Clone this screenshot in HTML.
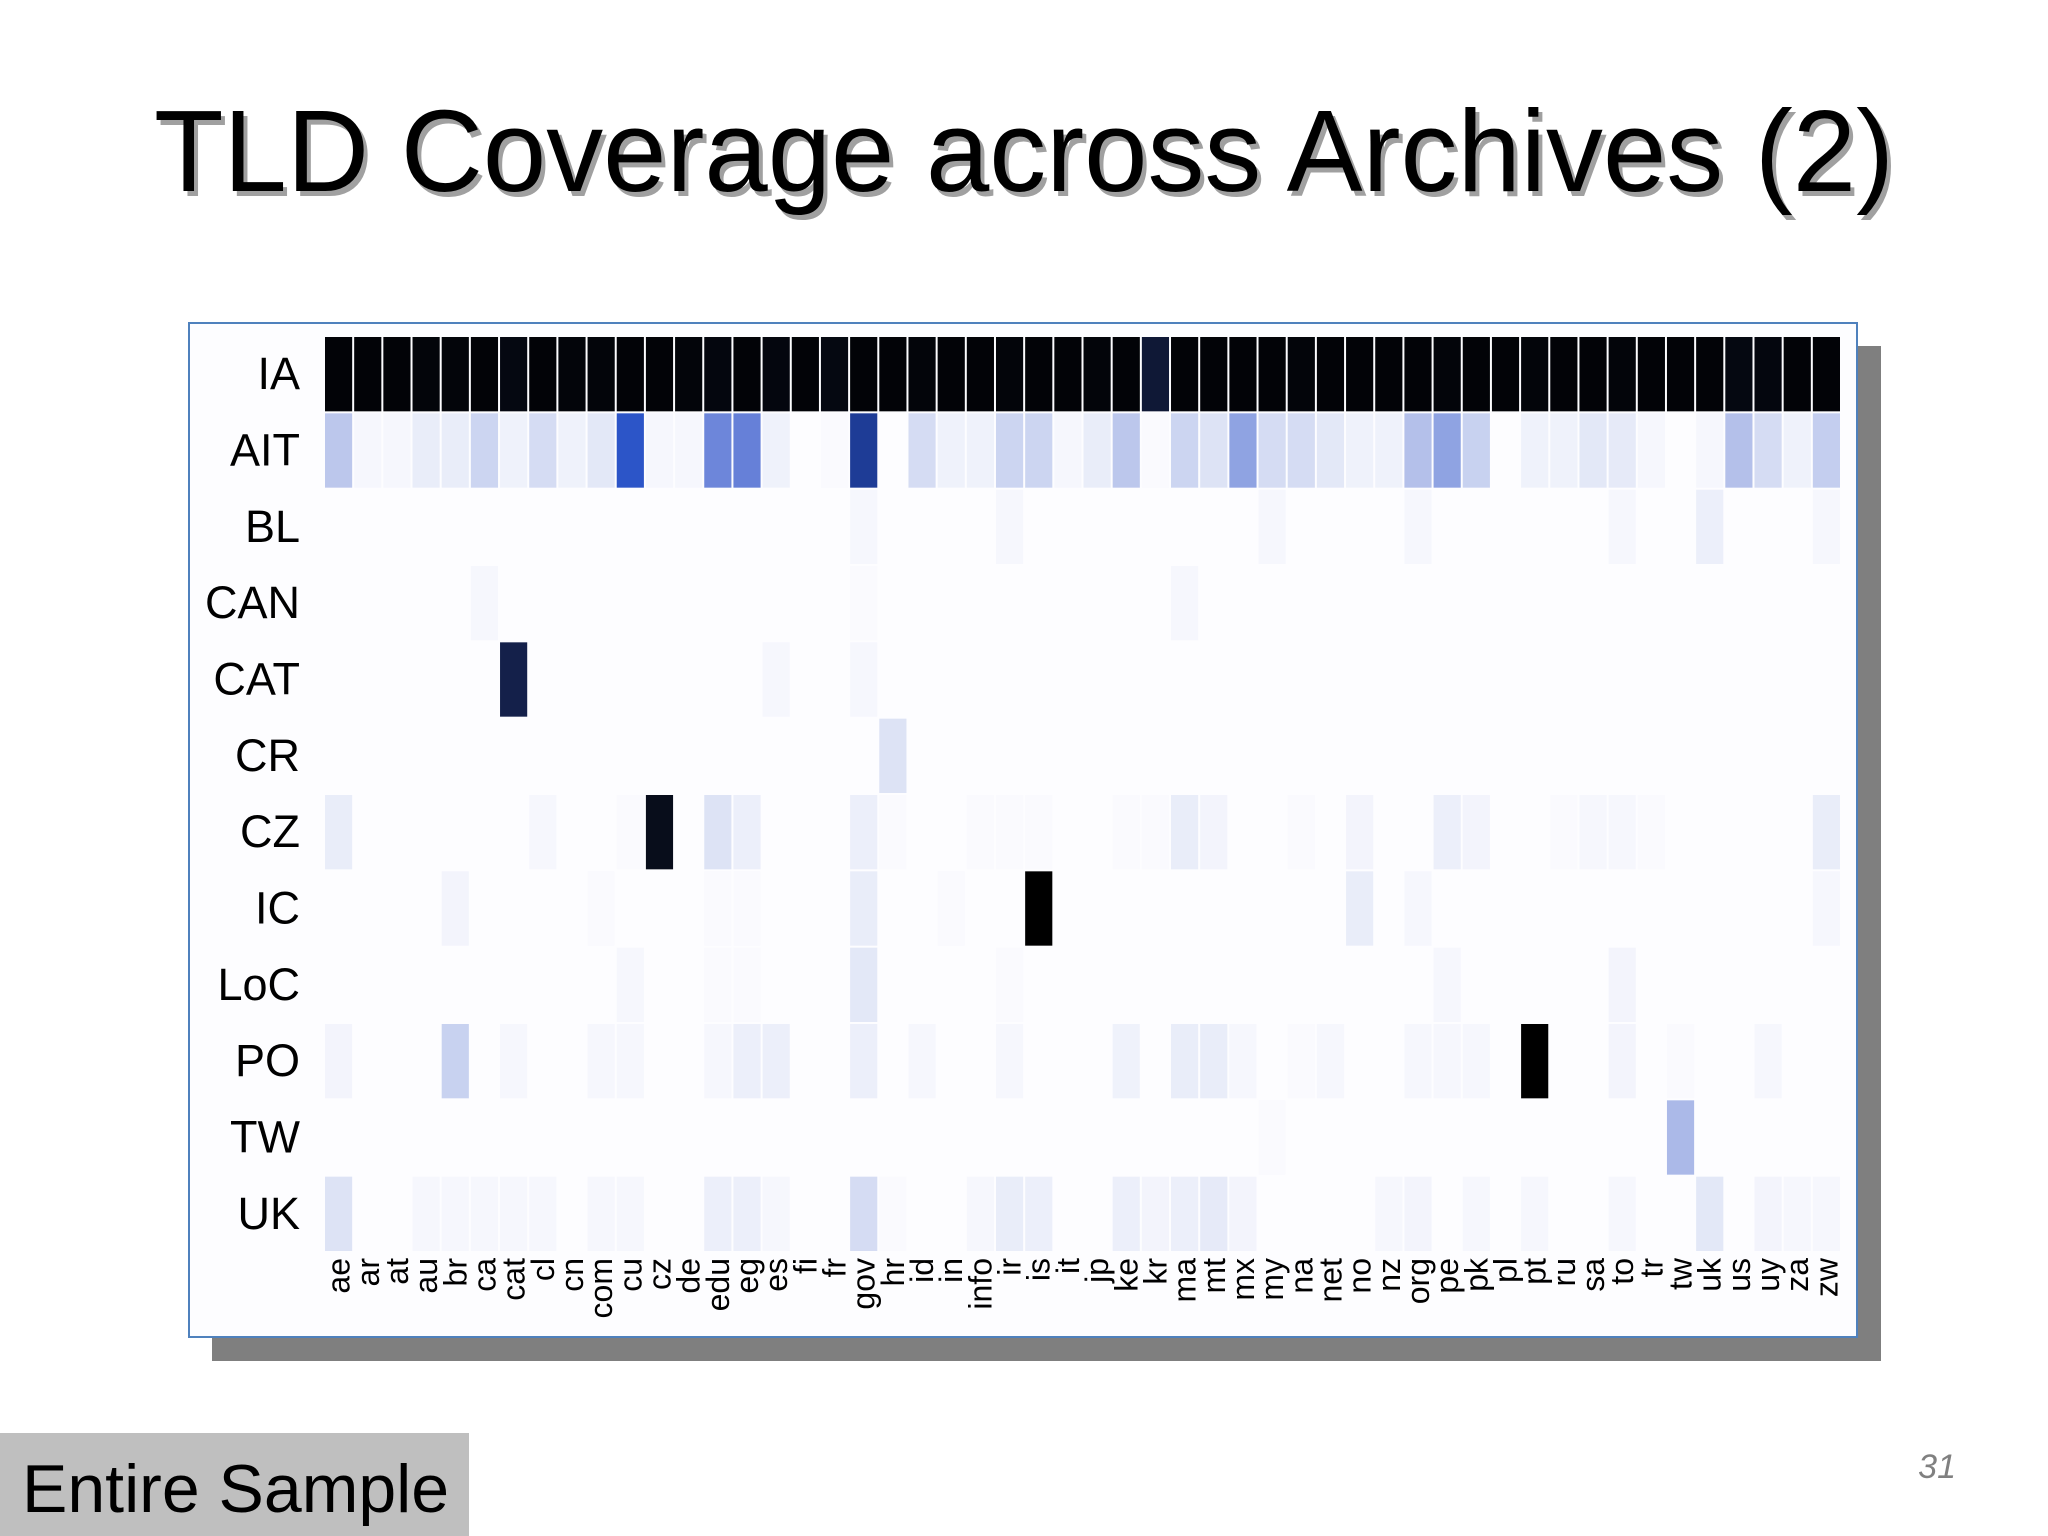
<!DOCTYPE html>
<html><head><meta charset="utf-8"><style>
html,body{margin:0;padding:0;background:#fff;}
svg{display:block;font-family:"Liberation Sans",Arial,sans-serif;}
</style></head><body>
<svg id="s" width="2048" height="1536" viewBox="0 0 2048 1536">
<text x="1028" y="196" font-size="116" fill="#a0a0a0" text-anchor="middle" textLength="1740" lengthAdjust="spacingAndGlyphs">TLD Coverage across Archives (2)</text>
<text x="1024" y="191" font-size="116" fill="#000" text-anchor="middle" textLength="1740" lengthAdjust="spacingAndGlyphs">TLD Coverage across Archives (2)</text>
<rect x="212" y="346" width="1669" height="1015" fill="#7f7f7f"/>
<rect x="189" y="323" width="1668" height="1014" fill="#fdfdff" stroke="#4f81bd" stroke-width="2"/>
<g id="cells"></g>
<g id="rlabels"></g>
<g id="clabels"></g>
<rect x="0" y="1433" width="469" height="103" fill="#bfbfbf"/>
<text x="22" y="1512" font-size="68" fill="#000">Entire Sample</text>
<text x="1956" y="1478" font-size="34" fill="#808080" font-style="italic" text-anchor="end">31</text>
</svg>
<script>
const tlds=["ae","ar","at","au","br","ca","cat","cl","cn","com","cu","cz","de","edu","eg","es","fi","fr","gov","hr","id","in","info","ir","is","it","jp","ke","kr","ma","mt","mx","my","na","net","no","nz","org","pe","pk","pl","pt","ru","sa","to","tr","tw","uk","us","uy","za","zw"];
const archives=["IA","AIT","BL","CAN","CAT","CR","CZ","IC","LoC","PO","TW","UK"];
const rowIA=[98,98,98,97,97,98,95,98,97,97,98,98,97,96,98,96,98,95,98,98,97,98,98,97,98,98,97,98,85,98,98,98,98,97,98,98,98,98,97,98,98,97,98,98,97,98,98,98,95,96,98,98];
const rowAIT=[18,2,2,6,6,14,4,12,4,8,50,2,2,38,40,4,0,1,65,0,12,4,4,14,14,2,6,18,1,14,10,28,12,12,8,4,4,20,28,15,0,4,4,8,7,2,0,2,20,12,4,16];
const rowBL=[0,0,0,0,0,0,0,0,0,0,0,0,0,0,0,0,0,0,2,0,0,0,0,2,0,0,0,0,0,0,0,0,2,0,0,0,0,2,0,0,0,0,0,0,2,0,0,5,0,0,0,2];
const rowCAN=[0,0,0,0,0,2,0,0,0,0,0,0,0,0,0,0,0,0,1,0,0,0,0,0,0,0,0,0,0,2,0,0,0,0,0,0,0,0,0,0,0,0,0,0,0,0,0,0,0,0,0,0];
const rowCAT=[0,0,0,0,0,0,80,0,0,0,0,0,0,0,0,2,0,0,2,0,0,0,0,0,0,0,0,0,0,0,0,0,0,0,0,0,0,0,0,0,0,0,0,0,0,0,0,0,0,0,0,0];
const rowCR=[0,0,0,0,0,0,0,0,0,0,0,0,0,0,0,0,0,0,0,10,0,0,0,0,0,0,0,0,0,0,0,0,0,0,0,0,0,0,0,0,0,0,0,0,0,0,0,0,0,0,0,0];
const rowCZ=[6,0,0,0,0,0,0,2,0,0,1,92,0,10,5,0,0,0,5,1,0,0,1,1,1,0,0,1,1,6,3,0,0,1,0,3,0,0,5,3,0,0,1,2,2,1,0,0,0,0,0,6];
const rowIC=[0,0,0,0,3,0,0,0,0,1,0,0,0,1,1,0,0,0,6,0,0,1,0,0,100,0,0,0,0,0,0,0,0,0,0,6,0,2,0,0,0,0,0,0,0,0,0,0,0,0,0,2];
const rowLoC=[0,0,0,0,0,0,0,0,0,0,2,0,0,1,1,0,0,0,8,0,0,0,0,1,0,0,0,0,0,0,0,0,0,0,0,0,0,0,2,0,0,0,0,0,3,0,0,0,0,0,0,0];
const rowPO=[3,0,0,0,15,0,2,0,0,2,2,0,0,2,5,5,0,0,5,0,2,0,0,2,0,0,0,4,0,6,6,2,0,1,2,0,0,2,2,2,0,100,0,0,3,0,1,0,0,2,0,0];
const rowTW=[0,0,0,0,0,0,0,0,0,0,0,0,0,0,0,0,0,0,0,0,0,0,0,0,0,0,0,0,0,0,0,0,1,0,0,0,0,0,0,0,0,0,0,0,0,0,22,0,0,0,0,0];
const rowUK=[10,0,0,2,2,2,2,2,0,2,2,0,0,5,5,2,0,0,12,1,0,0,2,6,5,0,0,5,3,5,7,3,0,0,0,0,2,3,0,2,0,2,0,0,2,0,0,8,0,3,2,2];
const values=[rowIA,rowAIT,rowBL,rowCAN,rowCAT,rowCR,rowCZ,rowIC,rowLoC,rowPO,rowTW,rowUK];
const stops=[[0,[253,253,255]],[2,[246,247,253]],[5,[236,239,250]],[10,[221,227,245]],[15,[200,210,240]],[20,[180,192,234]],[28,[143,163,226]],[40,[102,128,216]],[50,[44,85,200]],[65,[30,60,150]],[80,[20,32,74]],[90,[10,16,34]],[100,[0,0,0]]];
function color(v){for(let i=1;i<stops.length;i++){if(v<=stops[i][0]){const a=stops[i-1],b=stops[i];const t=(v-a[0])/(b[0]-a[0]);return 'rgb('+a[1].map((c,k)=>Math.round(c+(b[1][k]-c)*t)).join(',')+')';}}return '#000';}
const x0=324,x1=1841,y0=336,y1=1252;
const cw=(x1-x0)/tlds.length, rh=(y1-y0)/archives.length;
function xPos(i){return x0+i*cw;}
function yPos(j){return y0+j*rh;}
const NS="http://www.w3.org/2000/svg";
const gC=document.getElementById('cells'),gR=document.getElementById('rlabels'),gL=document.getElementById('clabels');
values.forEach((row,j)=>{row.forEach((v,i)=>{
 if(v<=0) return;
 const r=document.createElementNS(NS,'rect');
 r.setAttribute('x',xPos(i)+1);r.setAttribute('y',yPos(j)+1);
 r.setAttribute('width',cw-2);r.setAttribute('height',rh-2);
 r.setAttribute('fill',color(v));
 
 
 gC.appendChild(r);});});
archives.forEach((a,j)=>{
 const t=document.createElementNS(NS,'text');
 t.setAttribute('x',300);t.setAttribute('y',yPos(j)+rh/2+15);
 t.setAttribute('font-size',45);t.setAttribute('text-anchor','end');
 t.textContent=a;
 
 
 gR.appendChild(t);});
tlds.forEach((d,i)=>{
 const t=document.createElementNS(NS,'text');
 const cx=xPos(i)+cw/2+11,cy=1258;
 t.setAttribute('x',cx);t.setAttribute('y',cy);
 t.setAttribute('transform','rotate(-90 '+cx+' '+cy+')');
 t.setAttribute('font-size',32);t.setAttribute('text-anchor','end');
 t.textContent=d;
 
 
 gL.appendChild(t);});
</script>
</body></html>
